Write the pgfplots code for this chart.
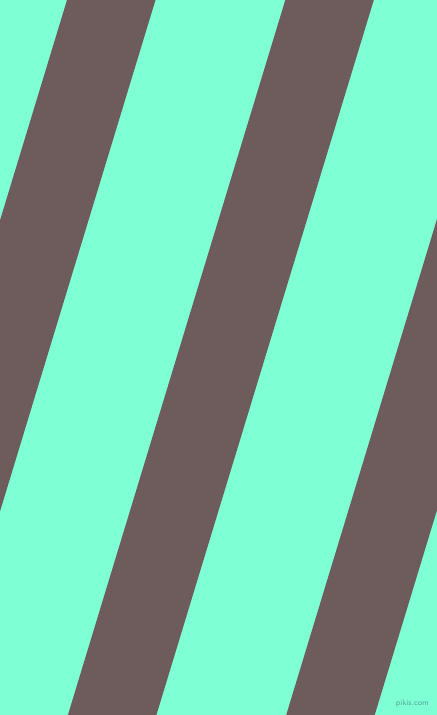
\documentclass[border=0pt]{standalone}
\usepackage{pgfplots}
\pgfplotsset{compat=1.18}
\definecolor{aqua}{RGB}{127,255,212}
\definecolor{stripe}{RGB}{110,91,91}

\begin{document}
\begin{tikzpicture}
  \begin{axis}[
    width=437bp, height=715bp,
    scale only axis,
    hide axis,
    xmin=0, xmax=437,
    ymin=0, ymax=715,
    y dir=reverse,
    clip=true,
    ]
    % background
    \addplot [draw=none, fill=aqua] coordinates {
      (-10,-10) (447,-10) (447,725) (-10,725)} -- cycle;
    % diagonal stripes
    \addplot [draw=none, fill=stripe] coordinates {
      (67,0) (155.5,0) (-61.9,715) (-150.4,715)} -- cycle;
    \addplot [draw=none, fill=stripe] coordinates {
      (285.3,0) (373.8,0) (156.4,715) (67.9,715)} -- cycle;
    \addplot [draw=none, fill=stripe] coordinates {
      (503.6,0) (592.1,0) (374.7,715) (286.2,715)} -- cycle;
    \node [text=teal!50!gray, opacity=0.7, font=\fontsize{8}{8}\selectfont\sffamily, anchor=east, inner sep=0pt]
      at (axis cs:429,703) {pikis.com};
  \end{axis}
\end{tikzpicture}
\end{document}
